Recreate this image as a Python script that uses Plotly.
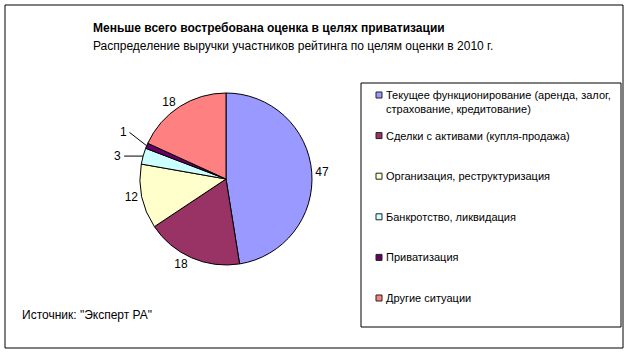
import math
import plotly.graph_objects as go

categories = [
    "Текущее функционирование (аренда, залог,<br>страхование, кредитование)",
    "Сделки с активами (купля-продажа)",
    "Организация, реструктуризация",
    "Банкротство, ликвидация",
    "Приватизация",
    "Другие ситуации",
]
values = [47, 18, 12, 3, 1, 18]
colors = ["#9999FF", "#993366", "#FFFFCC", "#CCFFFF", "#660066", "#FF8080"]

title = "Меньше всего востребована оценка в целях приватизации"
subtitle = "Распределение выручки участников рейтинга по целям оценки в 2010 г."
source = "Источник: \"Эксперт РА\""

W, H = 630, 354
FONT = "Liberation Sans, Arial, sans-serif"


def px(x):
    return x / W


def py(y):
    return 1 - y / H


# pie geometry (pixels)
PIE_L, PIE_R, PIE_T, PIE_B = 140, 312, 93, 265
CX, CY, R = (PIE_L + PIE_R) / 2, (PIE_T + PIE_B) / 2, (PIE_B - PIE_T) / 2
SMALL = 5  # slices below this get a leader-line label
leader_offsets = {3: (-20, 0), 4: (-18, -14)}

texts = ["%{value}" if v >= SMALL else "" for v in values]

fig = go.Figure()
fig.add_trace(go.Pie(
    labels=categories, values=values, sort=False, direction="clockwise", rotation=0,
    marker=dict(colors=colors, line=dict(color="black", width=1)),
    textposition="outside", texttemplate=texts,
    textfont=dict(size=12, color="black", family=FONT),
    showlegend=False, hoverinfo="label+value",
    domain=dict(x=[px(PIE_L), px(PIE_R)], y=[py(PIE_B), py(PIE_T)]),
))

shapes = [
    dict(type="rect", xref="paper", yref="paper", x0=px(5), x1=px(623),
         y0=py(348), y1=py(5), line=dict(color="black", width=1)),
    dict(type="rect", xref="paper", yref="paper", x0=px(361), x1=px(621),
         y0=py(327), y1=py(83), line=dict(color="black", width=1), fillcolor="white"),
]
annotations = [
    dict(text="<b>" + title + "</b>", x=px(91), y=py(28), xref="paper", yref="paper",
         xanchor="left", yanchor="middle", showarrow=False, font=dict(size=12)),
    dict(text=subtitle, x=px(91), y=py(46), xref="paper", yref="paper",
         xanchor="left", yanchor="middle", showarrow=False, font=dict(size=12)),
    dict(text=source, x=px(20), y=py(315), xref="paper", yref="paper",
         xanchor="left", yanchor="middle", showarrow=False, font=dict(size=12)),
]

# leader-line labels for small slices, positioned from the data
total = sum(values)
cum = 0
for i, v in enumerate(values):
    if v < SMALL:
        theta = 2 * math.pi * (cum + v / 2) / total
        ex = CX + R * math.sin(theta)
        ey = CY - R * math.cos(theta)
        ax, ay = leader_offsets.get(i, (-20, 0))
        annotations.append(dict(
            text=str(v), x=px(ex), y=py(ey), xref="paper", yref="paper",
            showarrow=True, arrowhead=0, arrowwidth=1, arrowcolor="black",
            ax=ax, ay=ay, standoff=0, startstandoff=1, font=dict(size=12),
            xanchor="right",
        ))
    cum += v

# manual legend
row0, step = 95.0, 40.6
for i, (lab, col) in enumerate(zip(categories, colors)):
    yc = row0 + step * i
    shapes.append(dict(type="rect", xref="paper", yref="paper",
                       x0=px(376), x1=px(382), y0=py(yc + 3), y1=py(yc - 3),
                       fillcolor=col, line=dict(color="#222222", width=1)))
    annotations.append(dict(text=lab, x=px(384), y=py(yc - 8), xref="paper", yref="paper",
                            xanchor="left", yanchor="top", align="left", showarrow=False,
                            font=dict(size=11)))

fig.update_layout(
    width=W, height=H, margin=dict(l=0, r=0, t=0, b=0),
    paper_bgcolor="white", plot_bgcolor="white",
    font=dict(family=FONT, size=11, color="black"),
    showlegend=False,
    shapes=shapes, annotations=annotations,
)

fig.write_html("out.html")
